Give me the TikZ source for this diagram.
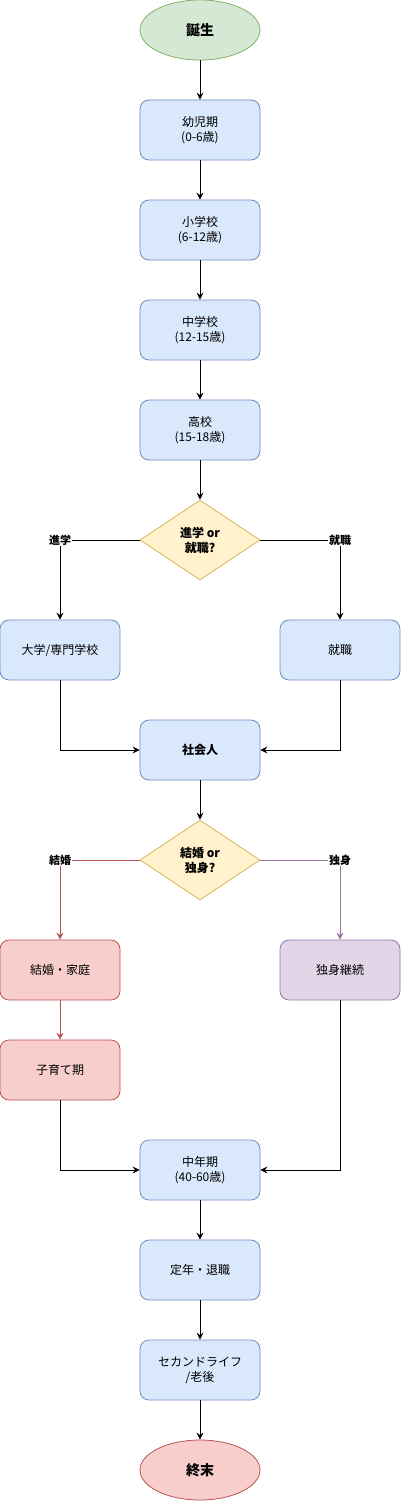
\documentclass[tikz,border=0pt]{standalone}
\usepackage{fontspec}
\setmainfont{Noto Sans CJK JP}
\usetikzlibrary{shapes.geometric,arrows.meta}
\definecolor{bfill}{HTML}{DAE8FC}\definecolor{bline}{HTML}{6C8EBF}
\definecolor{gfill}{HTML}{D5E8D4}\definecolor{gline}{HTML}{82B366}
\definecolor{rfill}{HTML}{F8CECC}\definecolor{rline}{HTML}{B85450}
\definecolor{pfill}{HTML}{E1D5E7}\definecolor{pline}{HTML}{9673A6}
\definecolor{yfill}{HTML}{FFF2CC}\definecolor{yline}{HTML}{D6B656}
\begin{document}
\begin{tikzpicture}[x=1pt,y=-1pt,
  base/.style={align=center,inner sep=0pt,line width=0.8pt,font=\fontsize{12}{15}\selectfont},
  stage/.style={base,rectangle,rounded corners=9pt,minimum width=120pt,minimum height=60pt,draw=bline,fill=bfill},
  redbox/.style={stage,draw=rline,fill=rfill},
  purbox/.style={stage,draw=pline,fill=pfill},
  oval/.style={base,ellipse,minimum width=120pt,minimum height=60pt,font=\fontsize{14}{17}\selectfont\bfseries},
  choice/.style={base,diamond,aspect=1.5,minimum width=120pt,minimum height=80pt,draw=yline,fill=yfill,font=\fontsize{12}{15}\selectfont\bfseries},
  arr/.style={-{Stealth[length=7pt,width=7pt,inset=2.5pt]},line width=0.8pt},
  lbl/.style={fill=white,inner sep=1pt,font=\fontsize{11}{13}\selectfont\bfseries}]
\useasboundingbox (0,0) rectangle (402,1501);
\node[oval,draw=gline,fill=gfill] (birth) at (200,30) {誕生};
\node[stage] (yoji) at (200,130) {幼児期\\(0-6歳)};
\node[stage] (sho) at (200,230) {小学校\\(6-12歳)};
\node[stage] (chu) at (200,330) {中学校\\(12-15歳)};
\node[stage] (ko) at (200,430) {高校\\(15-18歳)};
\node[choice] (d1) at (200,540) {進学 or\\就職?};
\node[stage] (dai) at (60,650) {大学/専門学校};
\node[stage] (shu) at (340,650) {就職};
\node[stage,font=\fontsize{12}{15}\selectfont\bfseries] (sha) at (200,750) {社会人};
\node[choice] (d2) at (200,860) {結婚 or\\独身?};
\node[redbox] (kek) at (60,970) {結婚・家庭};
\node[redbox] (kos) at (60,1070) {子育て期};
\node[purbox] (dok) at (340,970) {独身継続};
\node[stage] (chn) at (200,1170) {中年期\\(40-60歳)};
\node[stage] (tei) at (200,1270) {定年・退職};
\node[stage] (sec) at (200,1370) {セカンドライフ\\/老後};
\node[oval,draw=rline,fill=rfill] (end) at (200,1470) {終末};

\draw[arr] (birth) -- (yoji);
\draw[arr] (yoji) -- (sho);
\draw[arr] (sho) -- (chu);
\draw[arr] (chu) -- (ko);
\draw[arr] (ko) -- (d1);
\draw[arr] (d1.west) -| node[lbl,pos=0.5] {進学} (dai.north);
\draw[arr] (d1.east) -| node[lbl,pos=0.5] {就職} (shu.north);
\draw[arr] (dai.south) |- (sha.west);
\draw[arr] (shu.south) |- (sha.east);
\draw[arr] (sha) -- (d2);
\draw[arr,draw=rline,color=rline] (d2.west) -| node[lbl,pos=0.5,text=black] {結婚} (kek.north);
\draw[arr,draw=pline,color=pline] (d2.east) -| node[lbl,pos=0.5,text=black] {独身} (dok.north);
\draw[arr,draw=rline,color=rline] (kek) -- (kos);
\draw[arr] (kos.south) |- (chn.west);
\draw[arr] (dok.south) |- (chn.east);
\draw[arr] (chn) -- (tei);
\draw[arr] (tei) -- (sec);
\draw[arr] (sec) -- (end);
\end{tikzpicture}
\end{document}
